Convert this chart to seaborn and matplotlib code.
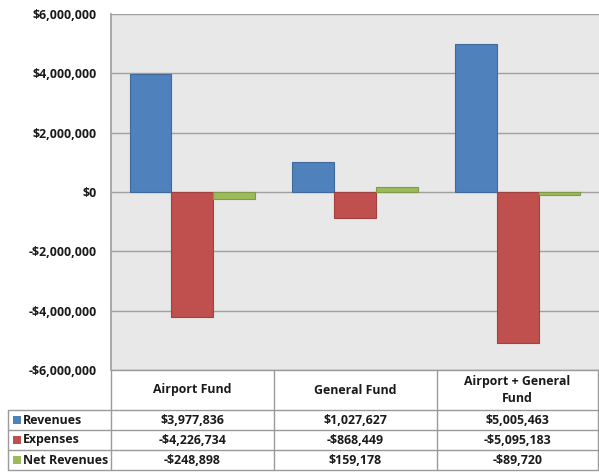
import matplotlib
matplotlib.use("Agg")
import matplotlib.pyplot as plt
import matplotlib.ticker as mticker
import seaborn as sns
import pandas as pd

# ── 資料 ─────────────────────────────────────────────────────────────
funds    = ["Airport Fund", "General Fund", "Airport + General Fund"]
headers  = ["Airport Fund", "General Fund", "Airport + General\nFund"]
series   = ["Revenues", "Expenses", "Net Revenues"]
revenues = [3977836, 1027627, 5005463]
expenses = [-4226734, -868449, -5095183]
net_rev  = [-248898, 159178, -89720]
yticks   = [-6000000, -4000000, -2000000, 0, 2000000, 4000000, 6000000]

colors = {"Revenues": "#4F81BD", "Expenses": "#C0504D", "Net Revenues": "#9BBB59"}
edges  = {"Revenues": "#3F6A9C", "Expenses": "#A0413F", "Net Revenues": "#809B48"}

values = [revenues, expenses, net_rev]
df = pd.DataFrame({
    "fund":   [f for _ in series for f in funds],
    "series": [s for s in series for _ in funds],
    "value":  [v for vals in values for v in vals],
})

sns.set_theme(style="white")
plt.rcParams["font.family"] = ["Open Sans", "DejaVu Sans"]
plt.rcParams["font.weight"] = "bold"
plt.rcParams["text.color"] = "#1A1A1A"
plt.rcParams["ytick.labelcolor"] = "#1A1A1A"

FS = 8.9
W, H = 599, 472
fig = plt.figure(figsize=(W / 100, H / 100), dpi=100)
fig.patch.set_facecolor("white")

# 繪圖區（像素座標換算）
L, R, T, B = 111, 599, 14, 370
ax = fig.add_axes([L / W, 1 - B / H, (R - L) / W, (B - T) / H])
ax.set_facecolor("#E8E8E8")

sns.barplot(data=df, x="fund", y="value", hue="series", order=funds,
            hue_order=series, palette=colors, saturation=1, width=0.77,
            legend=False, linewidth=0.8, ax=ax)
for cont, s in zip(ax.containers, series):
    for p in cont:
        p.set_edgecolor(edges[s])

ax.set_ylim(-6000000, 6000000)
ax.set_yticks(yticks)
ax.yaxis.set_major_formatter(mticker.FuncFormatter(
    lambda v, _: ("-$" if v < 0 else "$") + f"{abs(int(v)):,}"))
ax.yaxis.grid(True, color="#A0A0A0", linewidth=1)
ax.set_axisbelow(True)
ax.tick_params(axis="y", length=5, color="#A0A0A0", labelsize=FS, pad=5)
ax.tick_params(axis="x", bottom=False, labelbottom=False)
for lab in ax.get_yticklabels():
    lab.set_fontweight("bold")
ax.set_xlabel("")
ax.set_ylabel("")
ax.set_xlim(-0.5, 2.5)
for side in ["top", "right", "bottom"]:
    ax.spines[side].set_visible(False)
ax.spines["left"].set_color("#A0A0A0")

# ── 資料表 ───────────────────────────────────────────────────────────
tab = fig.add_axes([0, 0, 1, 1])
tab.set_xlim(0, W)
tab.set_ylim(H, 0)
tab.axis("off")

line_kw = dict(color="#9A9A9A", linewidth=1)
col_x = [111, 274, 437, 598]
row_y = [410, 430, 450, 470]

tab.plot([111, 598], [370, 370], **line_kw)
for x in col_x:
    tab.plot([x, x], [370, 470], **line_kw)
tab.plot([8, 8], [410, 470], **line_kw)
for y in row_y:
    tab.plot([8, 598], [y, y], **line_kw)

for i, h in enumerate(headers):
    cx = (col_x[i] + col_x[i + 1]) / 2
    tab.text(cx, 390, h, ha="center", va="center", fontsize=FS,
             fontweight="bold", linespacing=1.3)

for j, s in enumerate(series):
    cy = (row_y[j] + row_y[j + 1]) / 2
    tab.scatter([17], [cy], marker="s", s=36, color=colors[s], linewidths=0)
    tab.text(23, cy, s, ha="left", va="center", fontsize=FS, fontweight="bold")
    for i, v in enumerate(values[j]):
        cx = (col_x[i] + col_x[i + 1]) / 2
        txt = ("-$" if v < 0 else "$") + f"{abs(v):,}"
        tab.text(cx, cy, txt, ha="center", va="center", fontsize=FS,
                 fontweight="bold")

fig.savefig("out.png", dpi=100)
